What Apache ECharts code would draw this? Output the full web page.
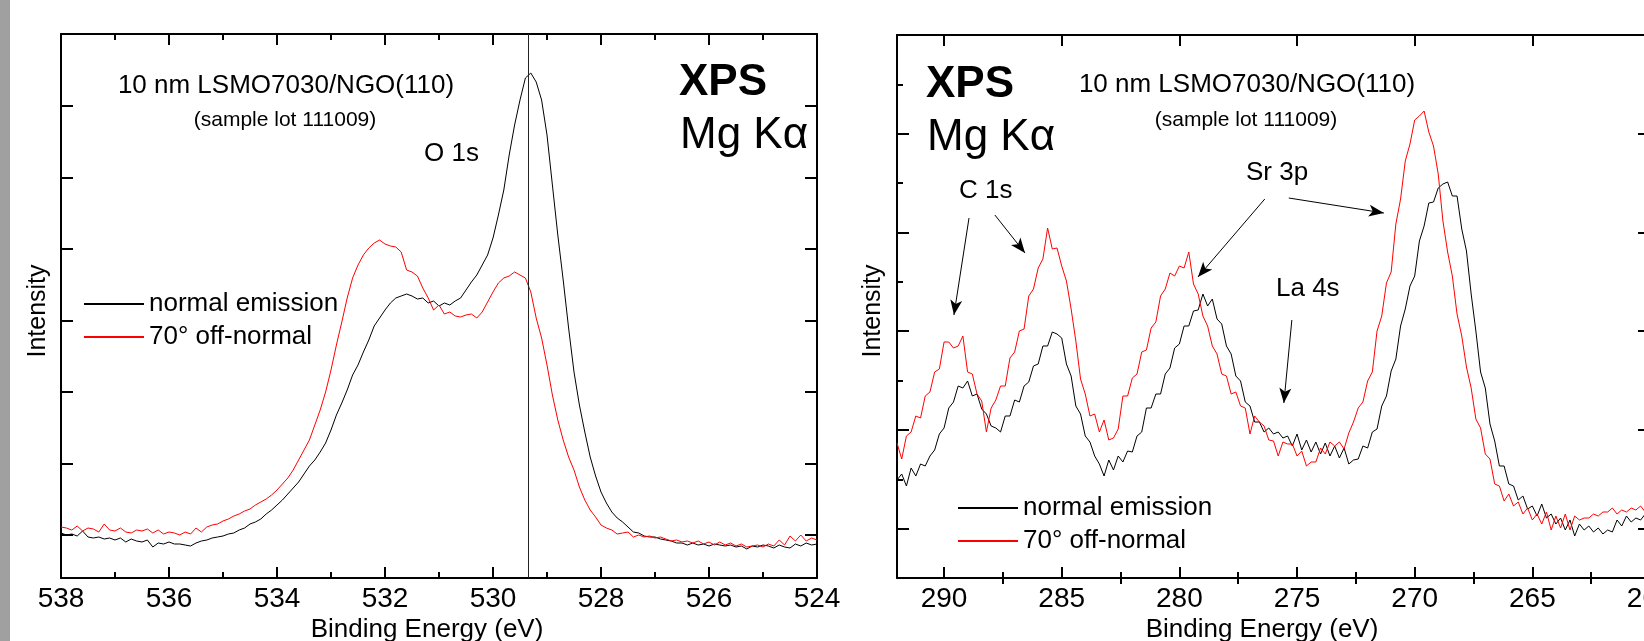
<!DOCTYPE html>
<html>
<head>
<meta charset="utf-8">
<script src="https://cdn.jsdelivr.net/npm/echarts@6/dist/echarts.min.js"></script>
<style>
html,body{margin:0;padding:0;background:#fff;}
#chart{width:1644px;height:641px;}
</style>
</head>
<body>
<div id="chart"></div>
<script>
// ---------- O 1s panel (binding energy in eV, intensity in arb. units) ----------
const o1sEnergy = [
538.0,537.9,537.8,537.7,537.6,537.5,537.4,537.3,537.2,537.1,
537.0,536.9,536.8,536.7,536.6,536.5,536.4,536.3,536.2,536.1,
536.0,535.9,535.8,535.7,535.6,535.5,535.4,535.3,535.2,535.1,
535.0,534.9,534.8,534.7,534.6,534.5,534.4,534.3,534.2,534.1,
534.0,533.9,533.8,533.7,533.6,533.5,533.4,533.3,533.2,533.1,
533.0,532.9,532.8,532.7,532.6,532.5,532.4,532.3,532.2,532.1,
532.0,531.9,531.8,531.7,531.6,531.5,531.4,531.3,531.2,531.1,
531.0,530.9,530.8,530.7,530.6,530.5,530.4,530.3,530.2,530.1,
530.0,529.9,529.8,529.7,529.6,529.5,529.4,529.3,529.2,529.1,
529.0,528.9,528.8,528.7,528.6,528.5,528.4,528.3,528.2,528.1,
528.0,527.9,527.8,527.7,527.6,527.5,527.4,527.3,527.2,527.1,
527.0,526.9,526.8,526.7,526.6,526.5,526.4,526.3,526.2,526.1,
526.0,525.9,525.8,525.7,525.6,525.5,525.4,525.3,525.2,525.1,
525.0,524.9,524.8,524.7,524.6,524.5,524.4,524.3,524.2,524.1,
524.0];
const o1sNormal = [
45,43,44,42,47,41,40,41,39,40,
38,40,36,39,37,36,38,31,35,34,
36,34,34,33,32,35,37,38,40,41,
42,44,45,48,50,54,56,59,64,68,
73,78,84,90,96,104,112,118,126,135,
148,163,175,188,203,213,226,238,252,260,
268,275,280,282,284,282,279,280,275,277,
272,275,273,277,280,288,296,303,313,323,
340,363,388,423,453,478,500,505,496,478,
443,393,343,298,250,206,173,146,121,102,
86,75,66,60,56,51,46,45,42,41,
41,39,38,37,35,35,33,35,33,34,
32,34,33,32,33,31,32,29,32,31,
33,32,30,33,31,30,34,32,35,33,
34];
const o1sOffNormal = [
51,50,48,52,47,50,49,46,54,48,
47,50,46,45,48,47,49,45,48,44,
46,45,43,46,44,50,46,51,53,54,
57,59,62,64,67,69,73,76,79,83,
88,94,100,108,118,128,138,153,168,186,
208,233,256,280,300,313,323,330,335,338,
334,332,331,326,308,306,302,290,280,268,
273,264,266,262,261,263,264,260,266,276,
286,295,300,302,306,303,300,286,260,240,
213,183,158,138,121,108,91,78,68,61,
53,50,48,44,45,46,41,43,41,42,
40,41,39,37,38,36,37,35,37,34,
36,33,36,33,35,32,34,31,32,33,
31,34,32,38,33,42,37,43,37,40,
38];
const o1sPeakMarker = 529.35;
const o1sIntensityTicks = [43, 114.5, 186, 257.5, 329, 400.5, 472];

// ---------- C 1s / Sr 3p / La 4s panel ----------
const valEnergy = [
292.0,291.8,291.6,291.4,291.2,291.0,290.8,290.6,290.4,290.2,
290.0,289.8,289.6,289.4,289.2,289.0,288.8,288.6,288.4,288.2,
288.0,287.8,287.6,287.4,287.2,287.0,286.8,286.6,286.4,286.2,
286.0,285.8,285.6,285.4,285.2,285.0,284.8,284.6,284.4,284.2,
284.0,283.8,283.6,283.4,283.2,283.0,282.8,282.6,282.4,282.2,
282.0,281.8,281.6,281.4,281.2,281.0,280.8,280.6,280.4,280.2,
280.0,279.8,279.6,279.4,279.2,279.0,278.8,278.6,278.4,278.2,
278.0,277.8,277.6,277.4,277.2,277.0,276.8,276.6,276.4,276.2,
276.0,275.8,275.6,275.4,275.2,275.0,274.8,274.6,274.4,274.2,
274.0,273.8,273.6,273.4,273.2,273.0,272.8,272.6,272.4,272.2,
272.0,271.8,271.6,271.4,271.2,271.0,270.8,270.6,270.4,270.2,
270.0,269.8,269.6,269.4,269.2,269.0,268.8,268.6,268.4,268.2,
268.0,267.8,267.6,267.4,267.2,267.0,266.8,266.6,266.4,266.2,
266.0,265.8,265.6,265.4,265.2,265.0,264.8,264.6,264.4,264.2,
264.0,263.8,263.6,263.4,263.2,263.0,262.8,262.6,262.4,262.2,
262.0,261.8,261.6,261.4,261.2,261.0,260.8,260.6,260.4,260.2,
260.0];
const valNormal = [
98,104,92,110,102,114,112,122,128,144,
150,170,176,192,190,197,182,184,169,164,
152,150,146,162,162,178,176,192,196,212,
214,232,232,246,244,240,214,202,172,164,
142,136,122,114,102,118,108,122,116,127,
126,142,146,170,170,184,184,204,210,230,
234,252,252,267,268,284,272,279,259,254,
232,224,202,197,176,172,156,156,146,150,
144,146,140,142,132,144,128,138,126,136,
124,135,122,132,120,130,114,118,119,132,
130,146,149,172,182,207,219,252,269,292,
302,337,352,375,376,390,394,396,382,382,
349,327,284,247,206,190,154,137,112,112,
94,92,78,82,69,72,62,74,60,64,
54,60,48,58,42,54,48,52,46,50,
44,48,46,58,52,62,56,60,58,64,
58];
const valOffNormal = [
135,119,142,146,162,160,182,186,206,209,
236,236,230,232,242,206,204,184,177,146,
170,178,192,192,220,226,247,249,282,289,
310,319,350,329,330,312,297,269,237,199,
184,162,164,146,158,138,140,149,182,182,
200,204,226,228,250,256,282,289,305,302,
312,310,326,294,284,262,252,232,224,204,
202,184,186,172,170,144,162,156,152,138,
137,122,136,134,134,122,127,112,116,116,
130,124,136,132,136,129,145,156,170,176,
197,206,247,262,295,306,354,379,417,434,
458,462,467,446,432,404,357,326,302,264,
242,211,190,159,150,124,119,94,92,77,
84,72,76,64,70,58,64,54,66,48,
62,50,64,48,62,58,60,60,64,62,
66,66,70,64,68,66,70,68,72,66,
70];
const valEnergyMajorTicks = [260, 265, 270, 275, 280, 285, 290];
const valEnergyMinorTicks = [262.5, 267.5, 272.5, 277.5, 282.5, 287.5];
const valIntensityMajorTicks = [49.4, 148.1, 246.8, 345.5, 444.2];
const valIntensityMinorTicks = [98.7, 197.5, 296.2, 394.9, 493.6];
// annotation arrows [from, to] in (eV, intensity)
const c1sArrows = [[[288.94, 360], [289.58, 263]], [[287.84, 363], [286.56, 325]]];
const sr3pArrows = [[[276.37, 379], [279.21, 301]], [[275.35, 380], [271.31, 365]]];
const la4sArrows = [[[275.22, 258], [275.56, 175]]];

const seriesNames = ['normal emission', '70\u00b0 off-normal'];

// ---------- chart ----------
const FONT = "'Liberation Sans', Arial, Helvetica, sans-serif";
const BLACK = '#000000', RED = '#ff0000';
const chart = echarts.init(document.getElementById('chart'), null, {renderer: 'canvas'});

function pairs(xs, ys) { return xs.map((x, i) => [x, ys[i]]); }

function xAxisBase(grid, pos, min, max, extra) {
  return Object.assign({
    type: 'value', gridIndex: grid, position: pos, min: min, max: max, inverse: true,
    axisLine: {show: true, onZero: false, lineStyle: {color: BLACK, width: 2}},
    axisTick: {show: true, inside: true, length: 11, lineStyle: {color: BLACK, width: 2}},
    axisLabel: {show: false},
    splitLine: {show: false}, minorSplitLine: {show: false}
  }, extra);
}
function yAxisBase(grid, pos, min, max, extra) {
  return Object.assign({
    type: 'value', gridIndex: grid, position: pos, min: min, max: max,
    axisLine: {show: true, onZero: false, lineStyle: {color: BLACK, width: 2}},
    axisTick: {show: true, inside: true, length: 12, lineStyle: {color: BLACK, width: 2}},
    axisLabel: {show: false},
    splitLine: {show: false}
  }, extra);
}
const tickLabel = {show: true, color: BLACK, fontSize: 28, fontFamily: FONT, margin: 7};

const xAxes = [
  xAxisBase(0, 'bottom', 524, 538, {interval: 2,
    minorTick: {show: true, splitNumber: 2, length: 6, lineStyle: {color: BLACK, width: 2}},
    axisLabel: tickLabel}),
  xAxisBase(0, 'top', 524, 538, {interval: 2,
    minorTick: {show: true, splitNumber: 2, length: 6, lineStyle: {color: BLACK, width: 2}}}),
  xAxisBase(1, 'bottom', 260, 292, {
    axisTick: {show: true, inside: true, length: 11, customValues: valEnergyMajorTicks, lineStyle: {color: BLACK, width: 2}},
    axisLabel: Object.assign({customValues: valEnergyMajorTicks}, tickLabel)}),
  xAxisBase(1, 'bottom', 260, 292, {axisLine: {show: false},
    axisTick: {show: true, inside: true, length: 6, customValues: valEnergyMinorTicks, lineStyle: {color: BLACK, width: 2}}}),
  xAxisBase(1, 'top', 260, 292, {
    axisTick: {show: true, inside: true, length: 11, customValues: valEnergyMajorTicks, lineStyle: {color: BLACK, width: 2}}}),
  xAxisBase(1, 'top', 260, 292, {axisLine: {show: false},
    axisTick: {show: true, inside: true, length: 6, customValues: valEnergyMinorTicks, lineStyle: {color: BLACK, width: 2}}})
];
const yTick = (vals, len) => ({show: true, inside: true, length: len, customValues: vals, lineStyle: {color: BLACK, width: 2}});
const yAxes = [
  yAxisBase(0, 'left', 0, 544, {axisTick: yTick(o1sIntensityTicks, 12)}),
  yAxisBase(0, 'right', 0, 544, {axisTick: yTick(o1sIntensityTicks, 12)}),
  yAxisBase(1, 'left', 0, 543, {axisTick: yTick(valIntensityMajorTicks, 12)}),
  yAxisBase(1, 'left', 0, 543, {axisLine: {show: false}, axisTick: yTick(valIntensityMinorTicks, 6)}),
  yAxisBase(1, 'right', 0, 543, {axisTick: yTick(valIntensityMajorTicks, 12)}),
  yAxisBase(1, 'right', 0, 543, {axisLine: {show: false}, axisTick: yTick(valIntensityMinorTicks, 6)})
];

function lineSeries(name, color, xi, yi, data, extra) {
  return Object.assign({
    type: 'line', name: name, xAxisIndex: xi, yAxisIndex: yi, data: data,
    symbol: 'none', showSymbol: false, smooth: false, color: color,
    lineStyle: {color: color, width: 1}, emphasis: {disabled: true}, silent: true
  }, extra || {});
}
function arrowLines(list) {
  return list.map(a => [{coord: a[0]}, {coord: a[1]}]);
}

const legendCommon = {
  data: seriesNames, orient: 'vertical', itemWidth: 60, itemHeight: 14, itemGap: 7,
  selectedMode: false,
  itemStyle: {opacity: 0, color: 'rgba(0,0,0,0)', borderColor: 'rgba(0,0,0,0)', borderWidth: 0},
  textStyle: {color: BLACK, fontSize: 26, fontFamily: FONT}
};

function txt(text, x, y, size, align, extra) {
  const st = Object.assign({
    text: text, fill: BLACK, fontSize: size, fontFamily: FONT,
    align: align, verticalAlign: 'middle', textAlign: align, textVerticalAlign: 'middle'
  }, extra || {});
  return {type: 'text', x: x, y: y, silent: true, style: st};
}

const option = {
  animation: false,
  backgroundColor: '#ffffff',
  grid: [
    {left: 61, top: 34, width: 756, height: 544, outerBoundsMode: 'none', containLabel: false},
    {left: 897, top: 35, width: 753, height: 543, outerBoundsMode: 'none', containLabel: false}
  ],
  xAxis: xAxes,
  yAxis: yAxes,
  legend: [
    Object.assign({left: 78, top: 286}, legendCommon),
    Object.assign({left: 952, top: 490}, legendCommon)
  ],
  series: [
    lineSeries(seriesNames[0], BLACK, 0, 0, pairs(o1sEnergy, o1sNormal), {
      markLine: {silent: true, symbol: ['none', 'none'], label: {show: false},
        lineStyle: {color: '#222', width: 1, type: 'solid'}, emphasis: {disabled: true},
        data: [{xAxis: o1sPeakMarker}]}
    }),
    lineSeries(seriesNames[1], RED, 0, 0, pairs(o1sEnergy, o1sOffNormal)),
    lineSeries(seriesNames[0], BLACK, 2, 2, pairs(valEnergy, valNormal), {
      markLine: {silent: true, symbol: ['none', 'arrow'], symbolSize: [9, 15], label: {show: false},
        lineStyle: {color: BLACK, width: 1, type: 'solid'}, itemStyle: {color: BLACK}, emphasis: {disabled: true},
        data: arrowLines(c1sArrows.concat(sr3pArrows, la4sArrows))}
    }),
    lineSeries(seriesNames[1], RED, 2, 2, pairs(valEnergy, valOffNormal))
  ],
  graphic: [
    {type: 'rect', shape: {x: 0, y: 0, width: 10, height: 641}, style: {fill: '#a0a0a0'}, silent: true},
    txt('10 nm LSMO7030/NGO(110)', 286, 86, 26, 'center'),
    txt('(sample lot 111009)', 285, 120, 21, 'center'),
    txt('O 1s', 424, 154, 26, 'left'),
    txt('XPS', 679, 83, 44, 'left', {fontWeight: 'bold'}),
    txt('Mg K\u03b1', 680, 136, 44, 'left'),
    txt('Binding Energy (eV)', 427, 630, 26, 'center'),
    Object.assign(txt('Intensity', 38, 311, 25, 'center'), {rotation: Math.PI / 2}),
    txt('XPS', 926, 85, 44, 'left', {fontWeight: 'bold'}),
    txt('Mg K\u03b1', 927, 138, 44, 'left'),
    txt('10 nm LSMO7030/NGO(110)', 1247, 85, 26, 'center'),
    txt('(sample lot 111009)', 1246, 120, 21, 'center'),
    txt('C 1s', 959, 191, 26, 'left'),
    txt('Sr 3p', 1246, 173, 26, 'left'),
    txt('La 4s', 1276, 289, 26, 'left'),
    txt('Binding Energy (eV)', 1262, 630, 26, 'center'),
    Object.assign(txt('Intensity', 873, 311, 25, 'center'), {rotation: Math.PI / 2})
  ]
};
chart.setOption(option);
</script>
</body>
</html>
